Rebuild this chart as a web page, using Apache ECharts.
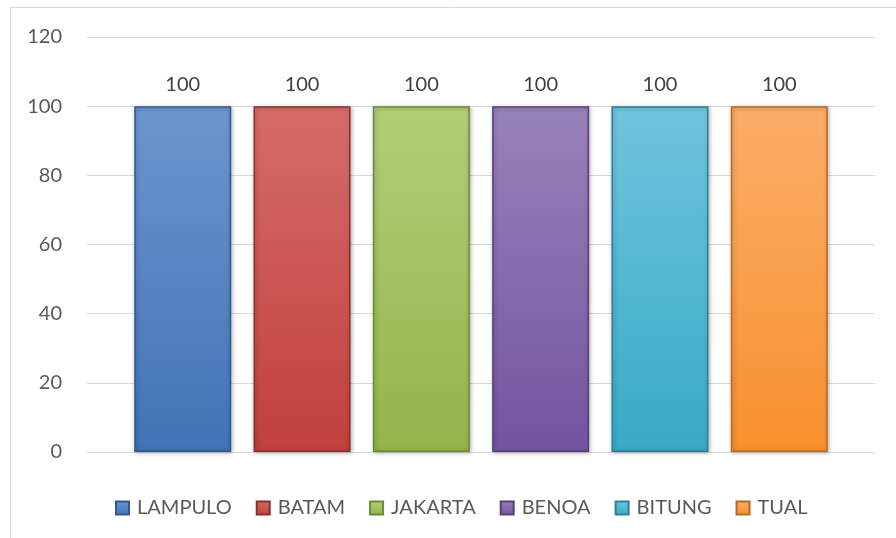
<!DOCTYPE html>
<html>
<head>
<meta charset="utf-8">
<script src="https://cdn.jsdelivr.net/npm/echarts@6/dist/echarts.min.js"></script>
<style>html,body{margin:0;padding:0;background:#fff;}#c{width:896px;height:538px;}</style>
</head>
<body>
<div id="c"></div>
<script>
var seriesNames = ['LAMPULO', 'BATAM', 'JAKARTA', 'BENOA', 'BITUNG', 'TUAL'];
var seriesValues = [100, 100, 100, 100, 100, 100];
var yTicks = [0, 20, 40, 60, 80, 100, 120];
var palette = [
  { top: '#6C96CF', bottom: '#4173B6', border: '#30598E', legend: '#3F6FAE' },
  { top: '#D66C69', bottom: '#C0403C', border: '#8B2F2C', legend: '#B9403C' },
  { top: '#B2CE78', bottom: '#93B54A', border: '#6E8A36', legend: '#8CAE48' },
  { top: '#9882BB', bottom: '#73549F', border: '#57407A', legend: '#6F539A' },
  { top: '#6FC5DC', bottom: '#38AAC7', border: '#2B8099', legend: '#3AA4C0' },
  { top: '#FCAD69', bottom: '#F7912D', border: '#B86A23', legend: '#F08D30' }
];
var FONT = 'Lato, "Open Sans", sans-serif';

var chart = echarts.init(document.getElementById('c'), null, { renderer: 'canvas' });
var series = seriesNames.map(function (name, i) {
  var p = palette[i];
  return {
    name: name,
    type: 'bar',
    data: [seriesValues[i]],
    barWidth: 97,
    barGap: '23%',
    color: p.legend,
    itemStyle: {
      color: new echarts.graphic.LinearGradient(0, 0, 0, 1, [
        { offset: 0, color: p.top },
        { offset: 1, color: p.bottom }
      ]),
      borderColor: p.border,
      borderWidth: 1.5,
      shadowColor: 'rgba(0,0,0,0.3)',
      shadowBlur: 4,
      shadowOffsetX: 1,
      shadowOffsetY: 1
    },
    label: {
      show: true,
      position: 'top',
      distance: 12,
      fontFamily: FONT,
      fontSize: 20,
      color: '#404040'
    }
  };
});

chart.setOption({
  backgroundColor: '#ffffff',
  animation: false,
  graphic: [{
    type: 'rect',
    shape: { x: 10.5, y: 7.5, width: 900, height: 560 },
    style: { fill: 'none', stroke: '#d9d9d9', lineWidth: 1 },
    silent: true,
    z: -1
  }],
  grid: { left: 87, right: 21, top: 37, bottom: 86 },
  legend: {
    bottom: 20,
    left: 115,
    padding: 0,
    itemWidth: 13,
    itemHeight: 13,
    itemGap: 24,
    icon: 'rect',
    data: seriesNames,
    textStyle: {
      fontFamily: FONT,
      fontSize: 20,
      color: '#595959',
      padding: [0, 0, 0, 3]
    }
  },
  xAxis: {
    type: 'category',
    data: [''],
    axisLine: { show: true, lineStyle: { color: '#d9d9d9', width: 1 } },
    axisTick: { show: false },
    axisLabel: { show: false }
  },
  yAxis: {
    type: 'value',
    min: yTicks[0],
    max: yTicks[yTicks.length - 1],
    interval: yTicks[1] - yTicks[0],
    axisLine: { show: false },
    axisTick: { show: false },
    splitLine: { lineStyle: { color: '#d9d9d9', width: 1 } },
    axisLabel: {
      margin: 25,
      fontFamily: FONT,
      fontSize: 20,
      color: '#595959'
    }
  },
  series: series
});
</script>
</body>
</html>
